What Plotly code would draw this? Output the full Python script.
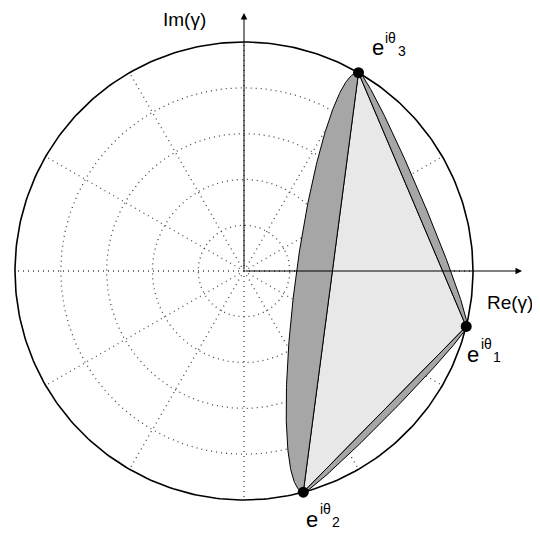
import numpy as np
import plotly.graph_objects as go

# ---- data (unit circle, angles in degrees) ----
point_labels = ["1", "2", "3"]
point_angles_deg = [-14.0, -75.0, 60.0]
lens_pairs = [("3", "2"), ("3", "1"), ("1", "2")]
lens_minor = [0.155, 0.040, 0.030]          # half-width of each lens (unit radius)
grid_radii = [0.2, 0.4, 0.6, 0.8]
grid_angles_deg = [0, 30, 60, 90, 120, 150, 180, 210, 240, 270, 300, 330]
axis_labels = ["Re(γ)", "Im(γ)"]
axis_tips = [1.214, 1.127]

# ---- geometry ----
PX = 229.0                       # pixels per unit
CX, CY = 244.0, 271.0            # pixel position of the origin in the 540x538 view
OFF = 8                          # page body margin
W, H = 540 - OFF, 538 - OFF
xr = [(OFF - CX) / PX, (540 - CX) / PX]
yr = [-(538 - CY) / PX, (CY - OFF) / PX]

pts = {n: np.array([np.cos(np.radians(a)), np.sin(np.radians(a))])
       for n, a in zip(point_labels, point_angles_deg)}
centroid = np.mean(list(pts.values()), axis=0)

fig = go.Figure()
GRID = dict(color="#444444", width=1.3, dash="1px,4px")

# polar grid circles
t = np.linspace(0, 2 * np.pi, 361)
for r in grid_radii:
    fig.add_trace(go.Scatter(x=r * np.cos(t), y=r * np.sin(t), mode="lines",
                             line=GRID, hoverinfo="skip", showlegend=False))
# radial lines
for a in grid_angles_deg:
    ar = np.radians(a)
    fig.add_trace(go.Scatter(x=[0, np.cos(ar)], y=[0, np.sin(ar)], mode="lines",
                             line=GRID, hoverinfo="skip", showlegend=False))
# unit circle
fig.add_trace(go.Scatter(x=np.cos(t), y=np.sin(t), mode="lines",
                         line=dict(color="black", width=1.6),
                         hoverinfo="skip", showlegend=False))

# triangle
tri = [pts["1"], pts["2"], pts["3"], pts["1"]]
fig.add_trace(go.Scatter(x=[p[0] for p in tri], y=[p[1] for p in tri], mode="lines",
                         fill="toself", fillcolor="#e8e8e8",
                         line=dict(color="black", width=1),
                         hoverinfo="skip", showlegend=False))

# lenses: half ellipses on each side, bulging outward
s = np.linspace(0, np.pi, 200)
for (pa, pb), b in zip(lens_pairs, lens_minor):
    A, B = pts[pa], pts[pb]
    M = (A + B) / 2
    a = np.linalg.norm(B - A) / 2
    u = (B - A) / (2 * a)
    n = np.array([-u[1], u[0]])
    if np.dot(n, M - centroid) < 0:
        n = -n
    ex = M[0] + a * np.cos(s) * (-u[0]) + b * np.sin(s) * n[0]
    ey = M[1] + a * np.cos(s) * (-u[1]) + b * np.sin(s) * n[1]
    xs = np.concatenate([ex, [A[0]]])
    ys = np.concatenate([ey, [A[1]]])
    fig.add_trace(go.Scatter(x=xs, y=ys, mode="lines", fill="toself",
                             fillcolor="#a6a6a6",
                             line=dict(color="black", width=1),
                             hoverinfo="skip", showlegend=False))

# points
fig.add_trace(go.Scatter(x=[pts[n][0] for n in point_labels],
                         y=[pts[n][1] for n in point_labels],
                         mode="markers", marker=dict(color="black", size=11),
                         hoverinfo="skip", showlegend=False))

FONT = "Liberation Sans, Arial, Helvetica, sans-serif"
ann = []
# axes arrows
ann.append(dict(x=axis_tips[0], y=0, ax=0, ay=0, xref="x", yref="y", axref="x", ayref="y",
                text="", showarrow=True, arrowhead=2, arrowsize=1.3, arrowwidth=1,
                arrowcolor="black"))
ann.append(dict(x=0, y=axis_tips[1], ax=0, ay=0, xref="x", yref="y", axref="x", ayref="y",
                text="", showarrow=True, arrowhead=2, arrowsize=1.3, arrowwidth=1,
                arrowcolor="black"))
# axis labels
ann.append(dict(x=axis_tips[0], y=0, xref="x", yref="y", text=axis_labels[0],
                showarrow=False, xshift=-12, yshift=-31,
                font=dict(family=FONT, size=19, color="black")))
ann.append(dict(x=0, y=axis_tips[1], xref="x", yref="y", text=axis_labels[1],
                showarrow=False, xshift=-60, yshift=-7,
                font=dict(family=FONT, size=19, color="black")))

# point labels: e^{iθ_k}
label_offsets = {"3": (19, 25), "1": (7, -28), "2": (9, -27)}
for n in point_labels:
    dx, dy = label_offsets[n]
    P = pts[n]
    ann.append(dict(x=P[0], y=P[1], xref="x", yref="y", text="e", showarrow=False,
                    xshift=dx, yshift=dy, font=dict(family=FONT, size=22, color="black")))
    ann.append(dict(x=P[0], y=P[1], xref="x", yref="y", text="iθ", showarrow=False,
                    xshift=dx + 13, yshift=dy + 10, font=dict(family=FONT, size=14, color="black")))
    ann.append(dict(x=P[0], y=P[1], xref="x", yref="y", text=n, showarrow=False,
                    xshift=dx + 24, yshift=dy - 3, font=dict(family=FONT, size=14, color="black")))

fig.update_layout(
    width=W, height=H, margin=dict(l=0, r=0, t=0, b=0),
    paper_bgcolor="white", plot_bgcolor="white",
    xaxis=dict(range=xr, visible=False, fixedrange=True),
    yaxis=dict(range=yr, visible=False, fixedrange=True),
    annotations=ann, showlegend=False,
)
fig.write_html("out.html")
